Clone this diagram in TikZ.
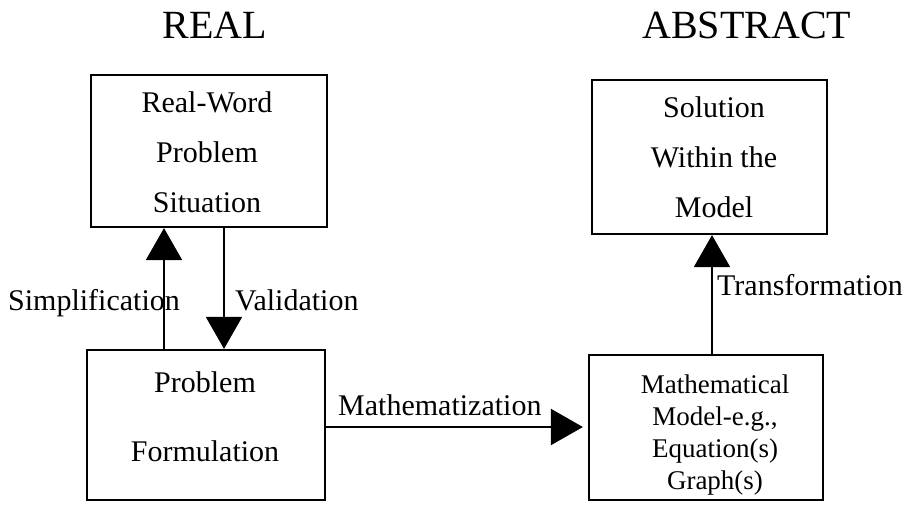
\documentclass[tikz,border=0pt]{standalone}
\usepackage{fontspec}
\setmainfont{Liberation Serif}
\usetikzlibrary{arrows.meta}
\begin{document}
\begin{tikzpicture}[x=1pt,y=-1pt,
  box/.style={draw,line width=2.2pt,inner sep=0pt},
  btext/.style={align=center,inner sep=0pt,font=\fontsize{30}{50}\selectfont},
  stext/.style={align=center,inner sep=0pt,font=\fontsize{27}{32}\selectfont},
  lbl/.style={inner sep=0pt,font=\fontsize{30}{36}\selectfont},
  ttl/.style={inner sep=0pt,font=\fontsize{40}{48}\selectfont},
  arr/.style={line width=2pt,-{Triangle[width=36pt,length=32pt]}}]
\useasboundingbox (0,0) rectangle (919,509);
% titles
\node[ttl,anchor=base] (treal) at (215,38) {REAL};
\node[ttl,anchor=base west] (tabs) at (642,38) {ABSTRACT};
% boxes
\node[box,minimum width=236pt,minimum height=152pt] (b1) at (209,151) {};
\node[box,minimum width=238pt,minimum height=150pt] (b2) at (206,425) {};
\node[box,minimum width=235pt,minimum height=154pt] (b3) at (709.5,157) {};
\node[box,minimum width=234pt,minimum height=145pt] (b4) at (706,427.5) {};
% box texts
\node[btext] (t1) at (207,152) {Real-Word\\Problem\\Situation};
\node[btext,font=\fontsize{30}{69}\selectfont] (t2) at (205,417) {Problem\\Formulation};
\node[btext] (t3) at (714,157.5) {Solution\\Within the\\Model};
\node[stext] (t4) at (715,435) {Mathematical\\Model-e.g.,\\Equation(s)\\Graph(s)};
% connector x positions
\coordinate (sx) at (164,0);
\coordinate (vx) at (224,0);
\coordinate (tx) at (712,0);
\coordinate (my) at (0,427);
% connectors
\draw[arr] (b2.north -| sx) -- (b1.south -| sx);
\draw[arr] (b1.south -| vx) -- (b2.north -| vx);
\draw[arr] (b4.north -| tx) -- (b3.south -| tx);
\draw[arr,shorten >=5pt] (b2.east |- my) -- (b4.west |- my);
% labels
\node[lbl,anchor=base west] (ls) at (8,310) {Simplification};
\node[lbl,anchor=base west] (lv) at (235,310) {Validation};
\node[lbl,anchor=base west] (lt) at (717,295) {Transformation};
\node[lbl,anchor=base west] (lm) at (338,415) {Mathematization};
\end{tikzpicture}
\end{document}
